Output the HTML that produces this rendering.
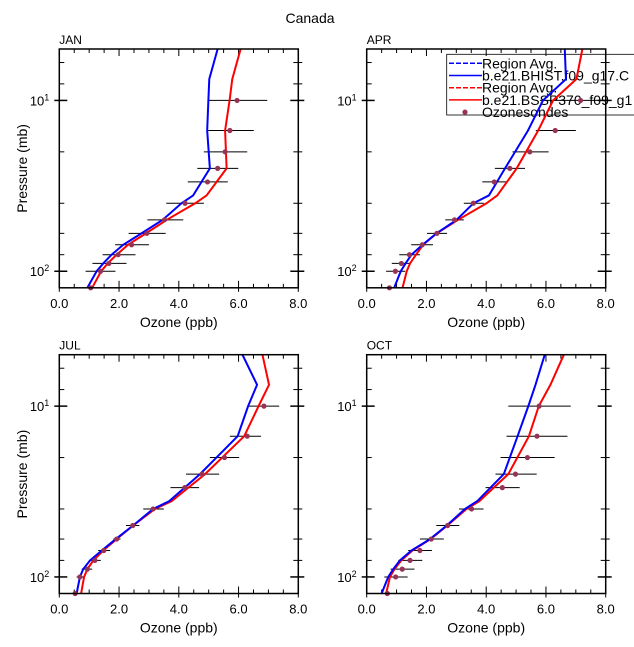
<!DOCTYPE html>
<html><head><meta charset="utf-8"><style>
html,body{margin:0;padding:0;background:#fff;}
svg{display:block;font-family:"Liberation Sans","DejaVu Sans",sans-serif;}
</style></head><body>
<svg id="chart" width="634" height="647" viewBox="0 0 634 647" xmlns="http://www.w3.org/2000/svg">
<text x="310" y="23" text-anchor="middle" font-size="14">Canada</text>
</svg>
<script>
const panelNames = ["JAN","APR","JUL","OCT"];
const modelLevels = [5,7.5,10,15,25,36,40,50,60,70,80,90,100,125];
const sondeLevels = [10,15,20,25,30,40,50,60,70,80,90,100,125];
const histJAN = [5.3,5.02,4.99,4.95,5.04,4.48,4.09,3.46,2.75,2.14,1.75,1.47,1.25,0.94];
const sspJAN  = [6.07,5.79,5.7,5.55,5.6,4.93,4.55,3.6,2.9,2.3,1.92,1.62,1.4,1.1];
const histAPR = [6.63,6.67,5.9,5.4,4.63,4.09,3.57,3.01,2.34,1.87,1.5,1.3,1.14,0.92];
const sspAPR  = [7.22,7.02,6.24,5.74,5.02,4.37,4.01,3.06,2.34,1.89,1.65,1.45,1.34,1.2];
const histJUL = [6.13,6.62,6.32,5.97,4.71,3.68,3.14,2.47,1.89,1.42,1.03,0.8,0.69,0.58];
const sspJUL  = [6.8,7.02,6.67,6.19,4.88,3.76,3.2,2.47,1.92,1.47,1.14,0.94,0.83,0.73];
const histOCT = [5.96,5.65,5.41,5.05,4.59,3.7,3.29,2.68,2.12,1.5,1.11,0.89,0.72,0.5];
const sspOCT  = [6.6,6.15,5.76,5.43,4.74,3.77,3.34,2.7,2.14,1.53,1.16,0.93,0.78,0.65];
const sondeJAN = [5.95,5.71,5.55,5.30,4.96,4.21,3.52,2.93,2.42,1.97,1.66,1.38,1.05];
const sondeLoJAN = [4.98,4.98,4.84,4.62,4.3,3.58,2.95,2.32,1.87,1.45,1.11,0.88,null];
const sondeHiJAN = [6.96,6.51,6.29,5.99,5.64,4.84,4.15,3.56,3.0,2.55,2.25,1.88,null];
const sondeAPR = [7.16,6.31,5.46,4.79,4.27,3.57,2.94,2.35,1.86,1.43,1.16,0.96,0.76];
const sondeLoAPR = [5.8,5.66,4.88,4.29,3.87,3.25,2.63,2.02,1.49,1.09,0.84,0.65,null];
const sondeHiAPR = [8.0,7.0,6.09,5.30,4.70,3.92,3.25,2.69,2.22,1.78,1.48,1.29,null];
const sondeJUL = [6.85,6.29,5.53,4.78,4.2,3.14,2.46,1.92,1.49,1.19,0.94,0.69,0.53];
const sondeLoJUL = [6.35,5.71,5.04,4.24,3.72,2.81,2.23,1.81,1.3,0.99,0.75,0.58,null];
const sondeHiJUL = [7.36,6.75,6.02,5.35,4.68,3.5,2.68,2.05,1.7,1.39,1.1,0.83,null];
const sondeOCT = [5.77,5.7,5.38,4.98,4.54,3.51,2.71,2.16,1.78,1.45,1.19,0.97,0.69];
const sondeLoOCT = [4.74,4.68,4.48,4.31,3.98,3.09,2.33,1.78,1.39,1.06,0.8,0.59,null];
const sondeHiOCT = [6.83,6.72,6.29,5.69,5.12,3.91,3.1,2.58,2.18,1.86,1.6,1.37,null];
const xTickLabels = ["0.0","2.0","4.0","6.0","8.0"];
const xTickValues = [0,2,4,6,8];
const yMinorTicks = [6,8,20,40,60,80];

const hist=[histJAN,histAPR,histJUL,histOCT], ssp=[sspJAN,sspAPR,sspJUL,sspOCT];
const sonde=[sondeJAN,sondeAPR,sondeJUL,sondeOCT], lo=[sondeLoJAN,sondeLoAPR,sondeLoJUL,sondeLoOCT], hi=[sondeHiJAN,sondeHiAPR,sondeHiJUL,sondeHiOCT];
const svg=document.getElementById('chart');
const NS='http://www.w3.org/2000/svg';
function mk(tag,attrs,parent){const e=document.createElementNS(NS,tag);for(const k in attrs)e.setAttribute(k,attrs[k]);(parent||svg).appendChild(e);return e;}
const boxes=[{l:59.3,t:49},{l:366.7,t:49},{l:59.3,t:354.7},{l:366.7,t:354.7}];
const W=239,H=238.8,PMIN=5,PMAX=125;
panelNames.forEach((nm,i)=>{
  const b=boxes[i];
  const xs=v=>b.l+v/8*W;
  const ys=p=>b.t+(Math.log10(p)-Math.log10(PMIN))/(Math.log10(PMAX)-Math.log10(PMIN))*H;
  const g=mk('g',{});
  
  
  const lab=mk('text',{x:b.l,y:b.t-5,'font-size':12},g);lab.textContent=nm;
  
  
  for(let v=0;v<=8.001;v+=0.5){
    const maj=Math.abs(v%2)<1e-6, x=xs(v), L=maj?7:4;
    mk('line',{x1:x,x2:x,y1:b.t+H-L,y2:b.t+H+(maj?4:0),stroke:'#000','stroke-width':1},g);
    mk('line',{x1:x,x2:x,y1:b.t,y2:b.t+L,stroke:'#000','stroke-width':1},g);
  }
  xTickValues.forEach((v,k)=>{const t=mk('text',{x:xs(v),y:b.t+H+20,'text-anchor':'middle','font-size':13},g);t.textContent=xTickLabels[k];
    
    });
  const xt=mk('text',{x:b.l+W/2,y:b.t+H+39,'text-anchor':'middle','font-size':14},g);xt.textContent='Ozone (ppb)';
  
  
  yMinorTicks.forEach(p=>{const y=ys(p);
    mk('line',{x1:b.l,x2:b.l+5,y1:y,y2:y,stroke:'#000'},g);mk('line',{x1:b.l+W-5,x2:b.l+W+4,y1:y,y2:y,stroke:'#000'},g);});
  [10,100].forEach((p,k)=>{const y=ys(p);
    mk('line',{x1:b.l-5,x2:b.l+8,y1:y,y2:y,stroke:'#000','stroke-width':1.5},g);mk('line',{x1:b.l+W-8,x2:b.l+W+6,y1:y,y2:y,stroke:'#000','stroke-width':1.5},g);
    const t=mk('text',{x:b.l-10,y:y+5,'text-anchor':'end','font-size':13},g);
    t.innerHTML='10<tspan dy="-5" font-size="9">'+(k+1)+'</tspan>';
    
    
  });
  if(i%2===0){const yt=mk('text',{x:0,y:0,'text-anchor':'middle','font-size':14,transform:`translate(27,${b.t+H/2}) rotate(-90)`},g);yt.textContent='Pressure (mb)';
    
    }
  if(i===1){
    const lg=mk('g',{},g);
    
    
    mk('rect',{x:446.7,y:54.3,width:200,height:60.7,fill:'none',stroke:'#000','stroke-width':0.8},lg);
    const items=[['#0000ff','5,2','Region Avg.'],['#0000ff','','b.e21.BHIST.f09_g17.C'],['#ff0000','5,2','Region Avg.'],['#ff0000','','b.e21.BSSP370_f09_g1'],[null,'','Ozonesondes']];
    items.forEach((it,k)=>{const y=63.3+k*12.2;
      if(it[0]){const a={x1:449,x2:482,y1:y,y2:y,stroke:it[0],'stroke-width':1.5};if(it[1])a['stroke-dasharray']=it[1];mk('line',a,lg);}
      else mk('circle',{cx:465,cy:y,r:2.6,fill:'#993355'},lg);
      const t=mk('text',{x:482,y:y+5,'font-size':14},lg);t.textContent=it[2];
      
      });
  }
  sondeLevels.forEach((p,k)=>{const y=ys(p);
    if(lo[i][k]!==null){const e=mk('line',{x1:xs(lo[i][k]),x2:Math.min(xs(hi[i][k]),634),y1:y,y2:y,stroke:'#000','stroke-width':1},g);
      
      }
  });
  const line=(arr,col,name)=>{const pl=mk('polyline',{points:modelLevels.map((p,k)=>xs(arr[k])+','+ys(p)).join(' '),fill:'none',stroke:col,'stroke-width':2},g);
    
    };
  line(ssp[i],'#ff0000','ssp370-line');
  line(hist[i],'#0000ff','bhist-line');
  sondeLevels.forEach((p,k)=>{const c=mk('circle',{cx:xs(sonde[i][k]),cy:ys(p),r:2.6,fill:'#993355'},g);
    
    });
  const fr=mk('rect',{x:b.l,y:b.t,width:W,height:H,fill:'none',stroke:'#000','stroke-width':1.5},g);
  
  
});
</script>
</body></html>
